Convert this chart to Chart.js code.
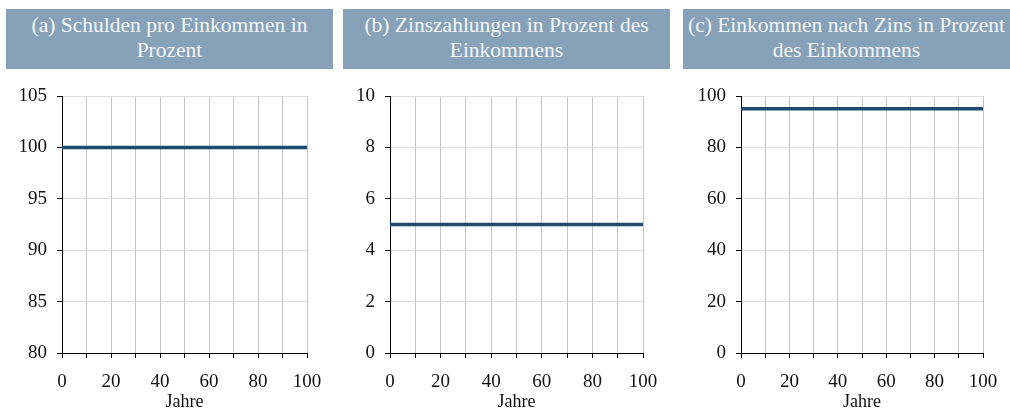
<!DOCTYPE html>
<html>
<head>
<meta charset="utf-8">
<script src="https://cdn.jsdelivr.net/npm/chart.js@4.4.1/dist/chart.umd.min.js"></script>
<style>
  body { margin: 0; width: 1010px; height: 414px; background: #fff; position: relative; overflow: hidden; font-family: "Liberation Serif", "Times New Roman", serif; }
  .head { position: absolute; top: 9px; height: 60px; width: 327px; box-sizing: border-box; padding-bottom: 2px; background: #87a2b8; color: #f3f6f9; font-size: 21.5px; line-height: 25px; text-align: center; display: flex; align-items: center; justify-content: center; }
  .panel { position: absolute; top: 80px; height: 334px; }
  canvas { display: block; }
</style>
</head>
<body>
<div class="head" id="headA" style="left:6px"></div>
<div class="head" id="headB" style="left:343px"></div>
<div class="head" id="headC" style="left:683px"></div>
<div class="panel" style="left:0;width:330px"><canvas id="chartA" width="330" height="334"></canvas></div>
<div class="panel" style="left:330px;width:340px"><canvas id="chartB" width="340" height="334"></canvas></div>
<div class="panel" style="left:670px;width:340px"><canvas id="chartC" width="340" height="334"></canvas></div>
<script>
// data
const years = [0, 10, 20, 30, 40, 50, 60, 70, 80, 90, 100];
const debtPerIncome = [100, 100, 100, 100, 100, 100, 100, 100, 100, 100, 100];
const interestShare = [5, 5, 5, 5, 5, 5, 5, 5, 5, 5, 5];
const incomeAfterInterest = [95, 95, 95, 95, 95, 95, 95, 95, 95, 95, 95];

const titles = [
  ['(a) Schulden pro Einkommen in', 'Prozent'],
  ['(b) Zinszahlungen in Prozent des', 'Einkommens'],
  ['(c) Einkommen nach Zins in Prozent', 'des Einkommens']
];
const xTitle = 'Jahre';
// [min, max, step]
const yRangeA = [80, 105, 5];
const yRangeB = [0, 10, 2];
const yRangeC = [0, 100, 20];

['headA', 'headB', 'headC'].forEach((id, i) => {
  document.getElementById(id).innerHTML = titles[i].join('<br>');
});

const serif = "'Liberation Serif', 'Times New Roman', serif";

function makeChart(id, values, yRange, yWidth, padRight) {
  const ctx = document.getElementById(id).getContext('2d');
  return new Chart(ctx, {
    type: 'line',
    data: {
      datasets: [{
        data: years.map((x, i) => ({ x: x, y: values[i] })),
        borderColor: '#1d4a6e',
        borderWidth: 3.5,
        borderCapStyle: 'round',
        pointRadius: 0,
        fill: false
      }]
    },
    options: {
      responsive: false,
      animation: false,
      layout: { padding: { top: 16, right: padRight, left: 0, bottom: 0 } },
      plugins: { legend: { display: false }, tooltip: { enabled: false } },
      scales: {
        x: {
          type: 'linear',
          min: 0,
          max: 100,
          afterFit: (s) => { s.height = 61; s.paddingLeft = 0; s.paddingRight = 0; },
          grid: { color: '#c4c4c4', tickColor: '#000', tickLength: 5 },
          border: { color: '#000', width: 1 },
          ticks: {
            stepSize: 10,
            autoSkip: false,
            maxRotation: 0,
            padding: 13,
            color: '#111',
            font: { family: serif, size: 19 },
            callback: (v) => (v % 20 === 0 ? v : '')
          },
          title: { display: true, text: xTitle, color: '#111', font: { family: serif, size: 18 }, padding: { top: 0, bottom: 1 } }
        },
        y: {
          min: yRange[0],
          max: yRange[1],
          afterFit: (s) => { s.width = yWidth; s.paddingTop = 0; s.paddingBottom = 0; },
          grid: { color: '#dedede', tickColor: '#000', tickLength: 5 },
          border: { color: '#000', width: 1 },
          ticks: {
            stepSize: yRange[2],
            padding: 10,
            color: '#111',
            font: { family: serif, size: 19 }
          }
        }
      }
    }
  });
}

makeChart('chartA', debtPerIncome, yRangeA, 62, 23);
makeChart('chartB', interestShare, yRangeB, 60, 27);
makeChart('chartC', incomeAfterInterest, yRangeC, 71, 27);
</script>
</body>
</html>
